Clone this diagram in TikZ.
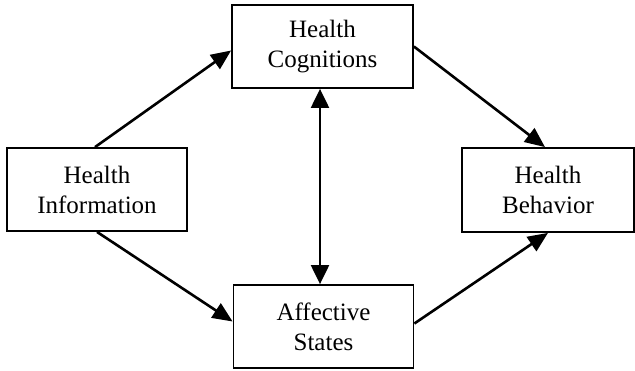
\documentclass[tikz,border=0pt]{standalone}
\usepackage{fontspec}
\setmainfont{Liberation Serif}
\usetikzlibrary{arrows.meta}
\begin{document}
\begin{tikzpicture}[x=1pt,y=-1pt,
  box/.style={draw=black, line width=1.8pt, align=center, inner sep=0pt,
    font=\fontsize{25}{30}\selectfont},
  link/.style={line width=2.6pt, -{Triangle[length=20pt,width=17pt]}},
  duallink/.style={line width=2.2pt, {Triangle[length=19pt,width=18pt]}-{Triangle[length=19pt,width=18pt]}}]
  \useasboundingbox (0,0) rectangle (635,370);
  % four construct boxes
  \node[box, minimum width=181pt, minimum height=83pt] (hc) at (322.5,46.5) {Health\\Cognitions};
  \node[box, minimum width=180pt, minimum height=83pt] (hi) at (97,189.5) {Health\\Information};
  \node[box, minimum width=172pt, minimum height=84pt] (hb) at (548,190) {Health\\Behavior};
  \node[box, minimum width=180pt, minimum height=83pt] (as) at (323.5,326.5) {Affective\\States};
  % paths between constructs
  \draw[link] ([xshift=-2pt]hi.north) -- ([yshift=-4pt]hc.west);
  \draw[link] (hc.east) -- ([xshift=-3pt]hb.north);
  \draw[link] (hi.south) -- ([yshift=5pt]as.west);
  \draw[link] ([yshift=3pt]as.east) -- (hb.south);
  \draw[duallink] ([xshift=-2.5pt]hc.south) -- ([xshift=-3.5pt]as.north);
\end{tikzpicture}
\end{document}
